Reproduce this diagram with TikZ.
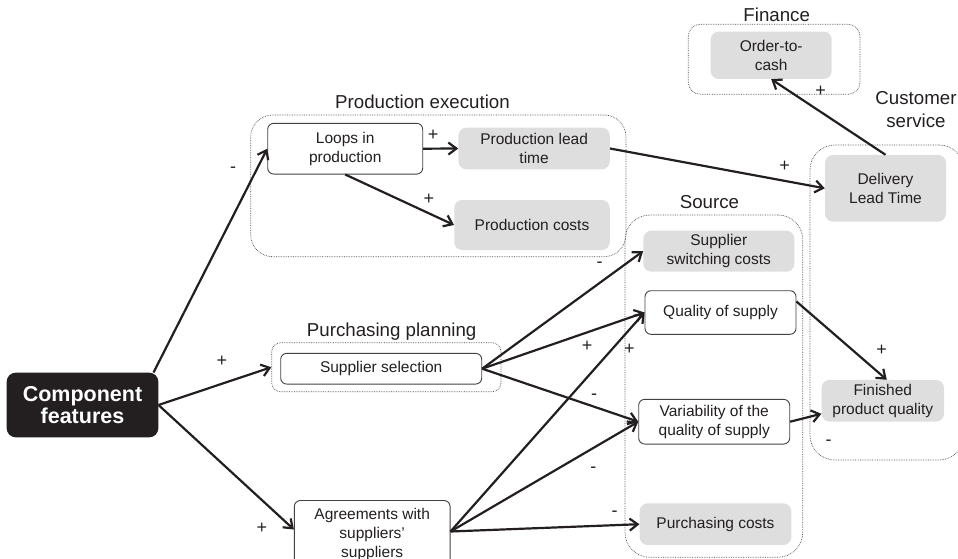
\documentclass[tikz,border=0pt]{standalone}
\usepackage{fontspec}
\setmainfont{Liberation Sans}
\usetikzlibrary{arrows.meta}
\definecolor{ink}{HTML}{231F20}
\definecolor{boxgray}{HTML}{DEDEDF}
\definecolor{dotgray}{HTML}{4A4A4A}
\begin{document}
\begin{tikzpicture}[x=1pt,y=-1pt,
  every node/.style={text=ink, inner sep=0pt, align=center,
    font=\fontsize{15.5}{19.3}\selectfont},
  sz/.style n args={2}{minimum width=#1pt, minimum height=#2pt},
  whitebox/.style={draw=ink!85, line width=0.9pt, fill=white, rounded corners=6pt},
  graybox/.style={fill=boxgray, rounded corners=8pt},
  group/.style={draw=dotgray, line width=0.7pt, densely dotted, rounded corners=#1},
  group/.default=22pt,
  title/.style={anchor=base, font=\fontsize{18.7}{21.7}\selectfont},
  link/.style={draw=ink, line width=2.2pt, -{Straight Barb[length=8pt,width=12pt]}},
  sign/.style={font=\fontsize{18}{18}\selectfont}
]
\useasboundingbox (0,0) rectangle (958,559);
\clip (0,0) rectangle (958,559);

% ---- process groups (dotted frames) and their titles ----
\node[group, sz={375.3}{141.7}] (pe)  at (438.35,185.85) {};
\node[group=12pt, sz={171.7}{70}] (fin) at (774.15,59.3) {};
\node[group=25pt, sz={154}{315}] (cs) at (887,302.5) {};
\node[group=25pt, sz={177.8}{342.3}] (src) at (713.9,386.15) {};
\node[group=9pt, sz={229.3}{49}] (pp) at (386.35,367.2) {};

\node[title] (tpe)  at (422.5,108.3) {Production execution};
\node[title] (tfin) at (776.7,21.7) {Finance};
\node[title] (tcs1) at (916,105) {Customer};
\node[title] (tcs2) at (916,127.2) {service};
\node[title] (tsrc) at (709.4,208.3) {Source};
\node[title] (tpp)  at (391.7,336) {Purchasing planning};

% ---- factor boxes ----
\node[fill=ink, rounded corners=9pt, sz={151.6}{64.6}, text=white,
      font=\bfseries\fontsize{21.5}{22}\selectfont] (comp) at (82.5,405) {Component\\features};

\node[whitebox, sz={155}{50.7}]   (loops) at (345.2,148.7) {Loops in\\production};
\node[graybox,  sz={151.4}{41.6}] (plt)   at (534.1,148.5) {Production lead\\time};
\node[graybox,  sz={155.5}{50}]   (pc)    at (532,225) {Production costs};

\node[graybox,  sz={121}{47.3}]   (otc)   at (771.2,55.3) {Order-to-\\cash};
\node[graybox,  sz={121}{66.7}]   (dlt)   at (885.5,188.3) {Delivery\\Lead Time};
\node[graybox,  sz={122.4}{41.7}] (fpq)   at (882.8,400.8) {Finished\\product quality};

\node[whitebox, sz={201}{30.7}]   (ss)    at (381.2,368.7) {Supplier selection};
\node[whitebox, sz={155.7}{68}]   (agr)   at (372.2,534.5)
  {\fontsize{15.5}{18.6}\selectfont Agreements with\\suppliers’\\suppliers};

\node[graybox,  sz={151}{41}]     (ssc)   at (718.8,251.2) {Supplier\\switching costs};
\node[whitebox, sz={151}{43.6}]   (qs)    at (720.5,312.5) {Quality of supply};
\node[whitebox, sz={151}{44.7}]   (var)   at (714.2,421.7) {Variability of the\\quality of supply};
\node[graybox,  sz={151.7}{41.7}] (pcost) at (715.5,524.2) {Purchasing costs};

% ---- causal links ----
\draw[link] ([xshift=-5pt]comp.north east) -- (loops.west);
\draw[link] (comp.east) -- (pp.west);
\draw[link] (comp.east) -- ([yshift=5pt]agr.west);
\draw[link] (loops.east) -- (plt.west);
\draw[link] (loops.south) -- (pc.west);
\draw[link] (plt.east) -- (dlt.west);
\draw[link] (dlt.north) -- (otc.south);
\draw[link] (ss.east) -- (ssc.west);
\draw[link] (ss.east) -- (qs.west);
\draw[link] (ss.east) -- (var.west);
\draw[link] ([yshift=3pt]agr.east) -- (qs.west);
\draw[link] ([yshift=3pt]agr.east) -- (var.west);
\draw[link] ([yshift=3pt]agr.east) -- (pcost.west);
\draw[link] ([yshift=11pt]qs.east) -- ([xshift=4pt]fpq.north);
\draw[link] (var.east) -- ([yshift=-13pt]fpq.west);

% ---- polarity signs ----
\node[sign] (s1)  at (233,170) {-};
\node[sign] (s2)  at (222,361) {+};
\node[sign] (s3)  at (262,528.3) {+};
\node[sign] (s4)  at (433,135) {+};
\node[sign] (s5)  at (429,199) {+};
\node[sign] (s6)  at (784.6,166.7) {+};
\node[sign] (s7)  at (820.7,91.7) {+};
\node[sign] (s8)  at (599.5,264.3) {-};
\node[sign] (s9)  at (587.2,346) {+};
\node[sign] (s10) at (594,396.7) {-};
\node[sign] (s11) at (629.4,349.3) {+};
\node[sign] (s12) at (593.4,470) {-};
\node[sign] (s13) at (614.6,514) {-};
\node[sign] (s14) at (881.7,350) {+};
\node[sign] (s15) at (828.5,442.7) {-};
\end{tikzpicture}
\end{document}
